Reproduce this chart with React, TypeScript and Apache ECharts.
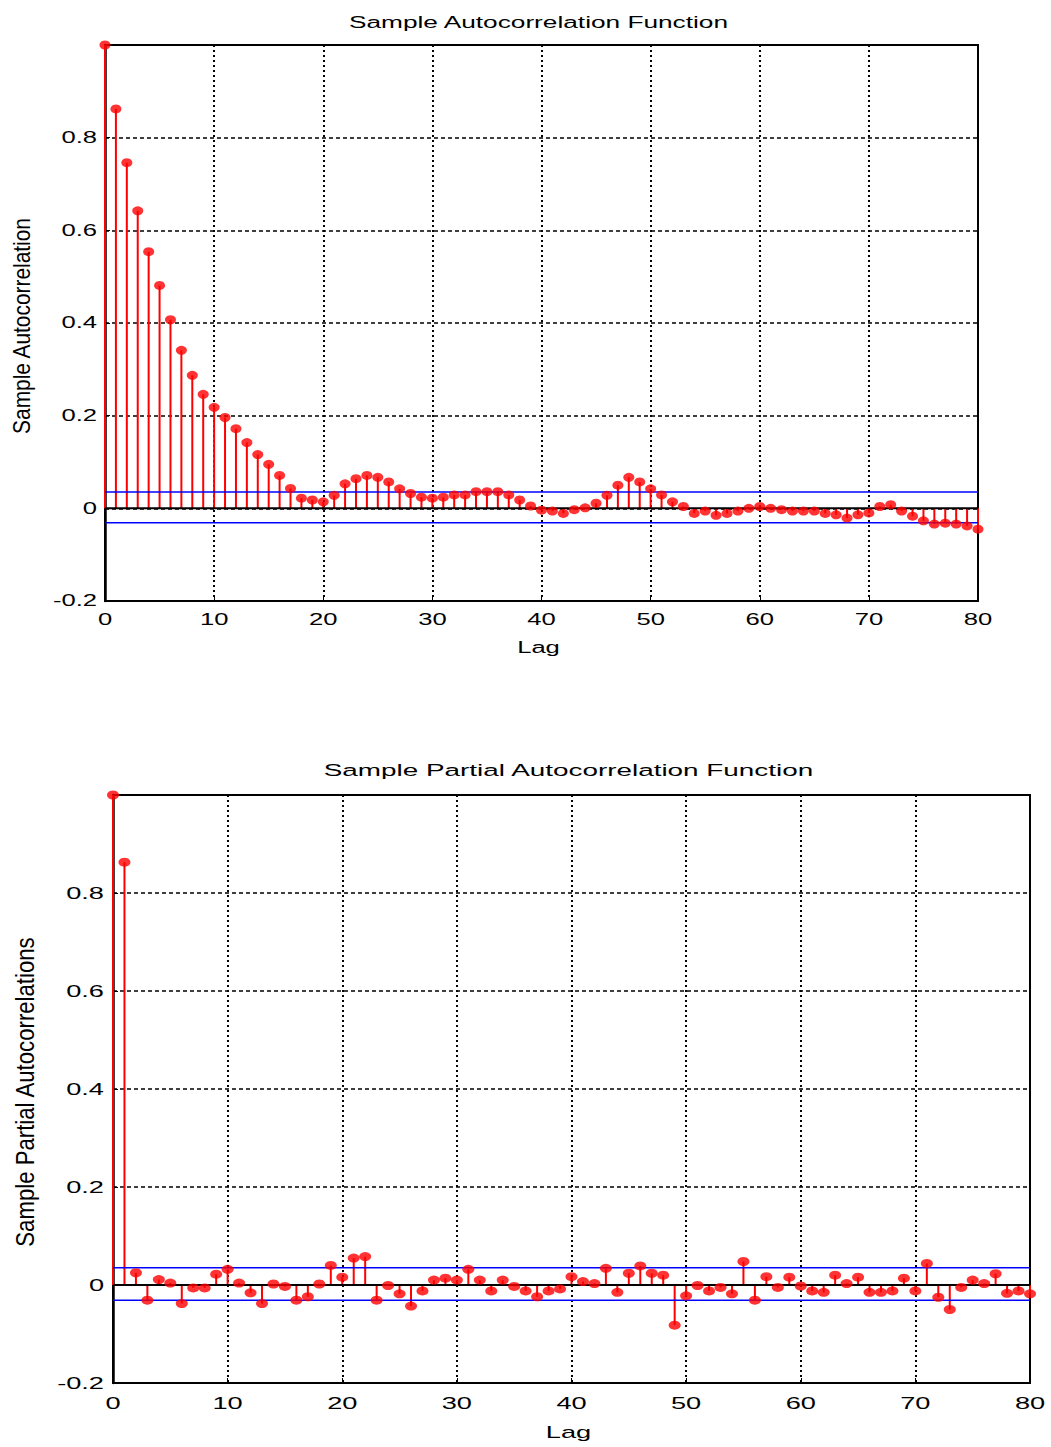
import React, { useEffect, useRef } from "react";
import * as echarts from "echarts";

// ---- data ----
const acfValues = [
  1.0, 0.862, 0.746, 0.642, 0.554, 0.481, 0.407, 0.341, 0.287, 0.246,
  0.218, 0.196, 0.172, 0.142, 0.116, 0.095, 0.071, 0.043, 0.022, 0.018,
  0.014, 0.028, 0.053, 0.064, 0.071, 0.067, 0.057, 0.042, 0.032, 0.024,
  0.022, 0.024, 0.029, 0.029, 0.036, 0.036, 0.036, 0.029, 0.018, 0.005,
  -0.004, -0.006, -0.011, -0.003, 0.001, 0.011, 0.028, 0.05, 0.067, 0.057,
  0.042, 0.029, 0.014, 0.004, -0.011, -0.006, -0.015, -0.011, -0.006, 0.0,
  0.004, 0.0, -0.003, -0.006, -0.006, -0.006, -0.011, -0.014, -0.021, -0.014,
  -0.01, 0.004, 0.008, -0.006, -0.017, -0.027, -0.034, -0.032, -0.034, -0.038,
  -0.045,
];

const pacfValues = [
  1.0, 0.863, 0.025, -0.031, 0.011, 0.004, -0.038, -0.006, -0.006, 0.022,
  0.032, 0.004, -0.016, -0.038, 0.002, -0.003, -0.031, -0.024, 0.002, 0.04,
  0.016, 0.055, 0.058, -0.031, -0.001, -0.018, -0.043, -0.012, 0.01, 0.014,
  0.01, 0.032, 0.01, -0.012, 0.01, -0.003, -0.012, -0.024, -0.012, -0.008,
  0.017, 0.007, 0.003, 0.034, -0.015, 0.024, 0.039, 0.024, 0.02, -0.082,
  -0.022, -0.001, -0.012, -0.005, -0.018, 0.048, -0.031, 0.017, -0.005, 0.016,
  -0.002, -0.012, -0.015, 0.02, 0.003, 0.016, -0.015, -0.015, -0.012, 0.014,
  -0.012, 0.044, -0.025, -0.05, -0.005, 0.01, 0.003, 0.023, -0.017, -0.012,
  -0.018,
];

const confBounds = [0.035, -0.031];
const xTicks = [0, 10, 20, 30, 40, 50, 60, 70, 80];
const yTicks = [-0.2, 0, 0.2, 0.4, 0.6, 0.8];
const yTickLabels = ["-0.2", "0", "0.2", "0.4", "0.6", "0.8"];
const titles = ["Sample Autocorrelation Function", "Sample Partial Autocorrelation Function"];
const yNames = ["Sample Autocorrelation", "Sample Partial Autocorrelations"];
const xName = "Lag";

// ---- layout ----
const W = 1051;
const H = 1447;
const grids = [
  { left: 105, top: 45, width: 873, height: 556, font: 16, yNameFont: 24, yNameX: 22, labGap: 8, xLabGap: 19, lagGap: 47, titleGap: 23, marker: [11, 9] },
  { left: 113, top: 795, width: 917, height: 588, font: 17, yNameFont: 25.5, yNameX: 25, labGap: 9, xLabGap: 20, lagGap: 49, titleGap: 25, marker: [12, 9] },
];
const SX = 1.6;
const TITLE_SX = 1.64;
const YNAME_SX = 0.87;
const FONT = "'Liberation Sans', Arial, Helvetica, sans-serif";

function buildOption() {
  const datasets = [acfValues, pacfValues];
  const xAxes: any[] = [];
  const yAxes: any[] = [];
  const series: any[] = [];
  grids.forEach((g, gi) => {
    xAxes.push({
      type: "value",
      gridIndex: gi,
      min: 0,
      max: 80,
      interval: 10,
      axisLabel: { show: false },
      axisLine: { show: true, onZero: false, lineStyle: { color: "#000", width: 2 } },
      axisTick: { show: true, inside: true, length: 5, lineStyle: { color: "#000", width: 1 } },
      splitLine: { show: true, lineStyle: { color: "#000", width: 2, type: [2, 3] } },
    });
    yAxes.push({
      type: "value",
      gridIndex: gi,
      min: -0.2,
      max: 1,
      interval: 0.2,
      axisLabel: { show: false },
      axisLine: { show: true, lineStyle: { color: "#000", width: 2.5 } },
      axisTick: { show: true, inside: true, length: 5, lineStyle: { color: "#000", width: 1 } },
      splitLine: { show: true, lineStyle: { color: "#000", width: 1.5, type: [4, 3] } },
    });
    const pts = datasets[gi].map((v, i) => [i, v]);
    series.push({
      type: "custom",
      xAxisIndex: gi,
      yAxisIndex: gi,
      z: 2,
      silent: true,
      data: pts,
      encode: { x: 0, y: 1 },
      renderItem: (_p: any, api: any) => {
        const x = api.value(0);
        const y = api.value(1);
        const p0 = api.coord([x, 0]);
        const p1 = api.coord([x, y]);
        return {
          type: "line",
          shape: { x1: p0[0], y1: p0[1], x2: p1[0], y2: p1[1] },
          style: { stroke: "#ff0000", lineWidth: 2 },
        };
      },
    });
    series.push({
      type: "line",
      xAxisIndex: gi,
      yAxisIndex: gi,
      z: 3,
      silent: true,
      symbol: "none",
      data: [[0, 0], [80, 0]],
      lineStyle: { color: "#000", width: 2 },
    });
    confBounds.forEach((b) => {
      series.push({
        type: "line",
        xAxisIndex: gi,
        yAxisIndex: gi,
        z: 3,
        silent: true,
        symbol: "none",
        data: [[0, b], [80, b]],
        lineStyle: { color: "#0000ff", width: 1.5 },
      });
    });
    series.push({
      type: "scatter",
      xAxisIndex: gi,
      yAxisIndex: gi,
      z: 4,
      silent: true,
      symbol: "circle",
      symbolSize: g.marker,
      itemStyle: { color: "#ff0000" },
      data: pts,
    });
  });
  return {
    animation: false,
    backgroundColor: "#fff",
    grid: grids.map((g) => ({
      left: g.left,
      top: g.top,
      width: g.width,
      height: g.height,
      show: true,
      borderColor: "#000",
      borderWidth: 2,
      backgroundColor: "transparent",
    })),
    xAxis: xAxes,
    yAxis: yAxes,
    series,
  };
}

function txt(text: string, x: number, y: number, size: number, align: string, vAlign: string, opts: any = {}) {
  return {
    type: "text",
    x,
    y,
    scaleX: opts.scaleX ?? SX,
    scaleY: opts.scaleY ?? 1,
    rotation: opts.rotation ?? 0,
    silent: true,
    z: 10,
    style: {
      text,
      fill: "#000",
      fontSize: size,
      fontFamily: FONT,
      align,
      verticalAlign: vAlign,
      textAlign: align,
      textVerticalAlign: vAlign,
    },
  };
}

export default function App() {
  const ref = useRef<HTMLDivElement>(null);
  useEffect(() => {
    document.body.style.margin = "0";
    document.body.style.overflow = "hidden";
    const chart = echarts.init(ref.current!, null, { renderer: "svg" });
    chart.setOption(buildOption() as any);
    const graphics: any[] = [];
    grids.forEach((g, gi) => {
      const finder = { gridIndex: gi } as any;
      xTicks.forEach((v) => {
        const p = chart.convertToPixel(finder, [v, -0.2]) as number[];
        graphics.push(txt(String(v), p[0], p[1] + g.xLabGap, g.font, "center", "middle"));
      });
      yTicks.forEach((v, i) => {
        const p = chart.convertToPixel(finder, [0, v]) as number[];
        graphics.push(txt(yTickLabels[i], p[0] - g.labGap, p[1], g.font, "right", "middle"));
      });
      const cx = g.left + g.width / 2;
      const cy = g.top + g.height / 2;
      graphics.push(txt(titles[gi], cx - 3, g.top - g.titleGap, g.font, "center", "middle", { scaleX: TITLE_SX }));
      graphics.push(txt(xName, cx - 3, g.top + g.height + g.lagGap, g.font, "center", "middle"));
      graphics.push(
        txt(yNames[gi], g.yNameX, cy + 3, g.yNameFont, "center", "middle", {
          rotation: Math.PI / 2,
          scaleX: YNAME_SX,
        })
      );
    });
    chart.setOption({ graphic: graphics } as any);
    return () => chart.dispose();
  }, []);
  return (
    <div
      ref={ref}
      style={{ position: "absolute", left: 0, top: 0, width: W, height: H, background: "#fff" }}
    />
  );
}
